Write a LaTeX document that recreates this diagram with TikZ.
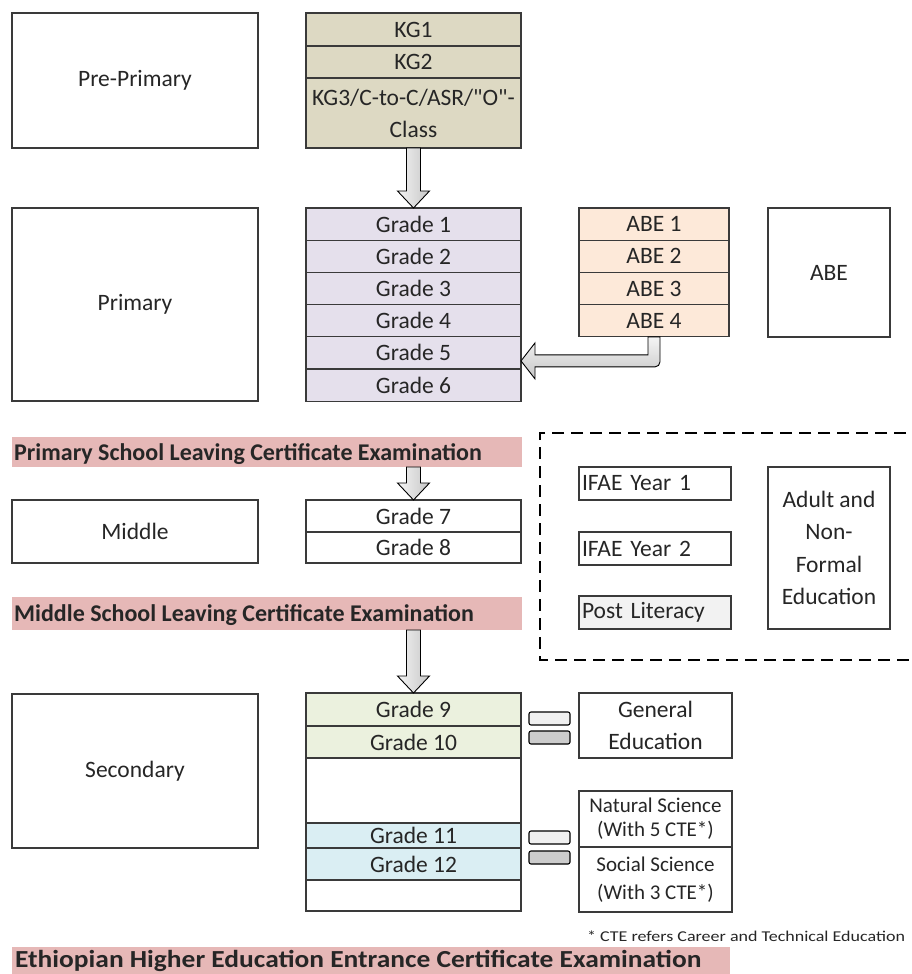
\documentclass[tikz,border=0pt]{standalone}
\usepackage{fontspec}
\setmainfont{Carlito}
\newfontfamily\notefont[FakeStretch=1.2]{Carlito}
\newfontfamily\widebold[FakeStretch=1.12]{Carlito}
\newfontfamily\straightfont[Ligatures=ResetAll]{Carlito}
\usetikzlibrary{calc}

\definecolor{kgfill}{HTML}{DDD9C3}
\definecolor{prifill}{HTML}{E5E0EC}
\definecolor{abefill}{HTML}{FDE9D9}
\definecolor{examfill}{HTML}{E6B8B7}
\definecolor{lowsec}{HTML}{EBF1DE}
\definecolor{uppsec}{HTML}{DAEEF3}
\definecolor{ink}{HTML}{262626}
\definecolor{edge}{HTML}{3A3A3A}

\tikzset{
  cell/.style={draw=edge, line width=1.3pt, fill=white, inner sep=0pt, outer sep=0pt,
    anchor=north west, text=ink, font=\fontsize{23.5}{32}\selectfont, align=center},
  leftcell/.style={cell, align=left, text width=#1, inner xsep=3pt},
  exambar/.style={fill=examfill, inner sep=0pt, outer sep=0pt, anchor=north west},
  examtext/.style={anchor=west, text=ink, font=\bfseries\fontsize{24}{26}\selectfont, inner sep=0pt},
  arrowshade/.style={draw=black, line width=0.9pt, left color=gray!8, right color=gray!45},
  arrowshadeh/.style={draw=black, line width=0.9pt, top color=gray!8, bottom color=gray!45},
  chip/.style={draw=black, line width=1.1pt, rounded corners=2pt, inner sep=0pt, outer sep=0pt,
    minimum width=41pt, minimum height=13pt, anchor=north west},
}

% vertical block arrow from one anchor (top) to another (tip)
\newcommand\blockdown[2]{%
  \draw[arrowshade] let \p1=(#1), \p2=(#2) in
    (\x1-7pt,\y1) -- (\x1+7pt,\y1) -- (\x1+7pt,\y2+17pt) -- (\x1+16pt,\y2+17pt)
    -- (\x1,\y2) -- (\x1-16pt,\y2+17pt) -- (\x1-7pt,\y2+17pt) -- cycle;}

\begin{document}
\begin{tikzpicture}[x=1pt,y=-1pt]
\useasboundingbox (0,0) rectangle (911,974);

% ---------- pre-primary ----------
\node[cell, minimum width=246, minimum height=135] (pre) at (12,13) {Pre-Primary};
\node[cell, fill=kgfill, minimum width=215, minimum height=33] (kg1) at (306,13) {KG1};
\node[cell, fill=kgfill, minimum width=215, minimum height=32] (kg2) at (306,46) {KG2};
\node[cell, fill=kgfill, minimum width=215, minimum height=70] (kg3) at (306,78)
  {{\straightfont KG3/C-to-C/ASR/"O"-}\\Class};

% ---------- primary ----------
\node[cell, minimum width=246, minimum height=193] (pri) at (12,208) {Primary};
\foreach \i/\y in {1/208,2/240.2,3/272.4,4/304.6,5/336.8,6/369}{
  \node[cell, fill=prifill, minimum width=215, minimum height=32.2] (g\i) at (306,\y) {Grade \i};
}
\foreach \i/\y in {1/208,2/240.2,3/272.4,4/304.6}{
  \node[cell, fill=abefill, minimum width=150, minimum height=32.2] (abe\i) at (579,\y) {ABE \i};
}
\node[cell, minimum width=122, minimum height=129] (abe) at (768,208) {ABE};

\blockdown{kg3.south}{g1.north}

% elbow arrow from ABE 4 into the grade column
\coordinate (abetip) at ($(g5.east)+(0,8)$);
\draw[arrowshadeh] let \p1=(abe4.south), \p2=(abetip) in
  (\x1-6pt,\y1) -- (\x1-6pt,\y2+6pt) -- (\x2+14pt,\y2+6pt) -- (\x2+14pt,\y2+18pt)
  -- (\x2,\y2) -- (\x2+14pt,\y2-18pt) -- (\x2+14pt,\y2-6pt)
  [rounded corners=5pt] -- (\x1+6pt,\y2-6pt) [sharp corners] -- (\x1+6pt,\y1) -- cycle;

% ---------- primary exam ----------
\node[exambar, minimum width=510, minimum height=30] (pexam) at (12,437) {};
\node[examtext] (pexamt) at (14,454) {Primary School Leaving Certificate Examination};

% ---------- middle ----------
\node[cell, minimum width=246, minimum height=63] (mid) at (12,500) {Middle};
\node[cell, minimum width=215, minimum height=32] (g7) at (306,500) {Grade 7};
\node[cell, minimum width=215, minimum height=31] (g8) at (306,532) {Grade 8};
\coordinate (pexamfoot) at (pexam.south -| g7.north);
\blockdown{pexamfoot}{g7.north}

\node[exambar, minimum width=510, minimum height=33] (mexam) at (12,597) {};
\node[examtext] (mexamt) at (14,615) {Middle School Leaving Certificate Examination};

% ---------- adult and non-formal education ----------
\draw[line width=2.6pt, dash pattern=on 12pt off 7pt] (925,433) -- (540,433) -- (540,660) -- (925,660);
\node[leftcell=146pt, minimum width=152, minimum height=33] (ifae1) at (579,467) {IFAE Year 1};
\node[leftcell=146pt, minimum width=152, minimum height=33] (ifae2) at (579,532) {IFAE Year 2};
\node[leftcell=146pt, fill=gray!10, minimum width=152, minimum height=33] (postlit) at (579,596) {Post Literacy};
\node[cell, minimum width=122, minimum height=162, font=\fontsize{23.5}{32.5}\selectfont] (anfe) at (768,467)
  {Adult and\\Non-\\Formal\\Education};

% ---------- secondary ----------
\node[cell, minimum width=246, minimum height=154] (sec) at (12,694) {Secondary};
\node[cell, fill=lowsec, minimum width=215, minimum height=33] (g9) at (306,693) {Grade 9};
\node[cell, fill=lowsec, minimum width=215, minimum height=32] (g10) at (306,726) {Grade 10};
\node[cell, minimum width=215, minimum height=65] (gap1) at (306,758) {};
\node[cell, fill=uppsec, minimum width=215, minimum height=25] (g11) at (306,823) {Grade 11};
\node[cell, fill=uppsec, minimum width=215, minimum height=32] (g12) at (306,848) {Grade 12};
\node[cell, minimum width=215, minimum height=31] (gap2) at (306,880) {};
\coordinate (mexamfoot) at (mexam.south -| g9.north);
\blockdown{mexamfoot}{g9.north}

\node[cell, minimum width=153, minimum height=65] (gen) at (579,693) {General\\Education};
\node[cell, font=\fontsize{21}{24}\selectfont, minimum width=153, minimum height=56] (nat) at (579,791)
  {Natural Science\\(With 5 CTE*)};
\node[cell, font=\fontsize{21}{28}\selectfont, minimum width=153, minimum height=65] (soc) at (579,847)
  {Social Science\\(With 3 CTE*)};

% stream markers
\node[chip, fill=gray!12] (c1a) at (529,712) {};
\node[chip, fill=gray!40] (c1b) at (529,731) {};
\node[chip, fill=gray!12] (c2a) at (529,831) {};
\node[chip, fill=gray!40] (c2b) at (529,851) {};

% ---------- footnote and final exam ----------
\node[anchor=west, inner sep=0pt, text=ink, font=\notefont\fontsize{15}{17}\selectfont] (note) at (587,936)
  {* CTE refers Career and Technical Education};
\node[exambar, minimum width=718, minimum height=35] (hexam) at (12,947) {};
\node[anchor=base west, inner sep=0pt, text=ink, font=\widebold\bfseries\fontsize{24.5}{27}\selectfont] (hexamt)
  at (15,967) {Ethiopian Higher Education Entrance Certificate Examination};
\end{tikzpicture}
\end{document}
